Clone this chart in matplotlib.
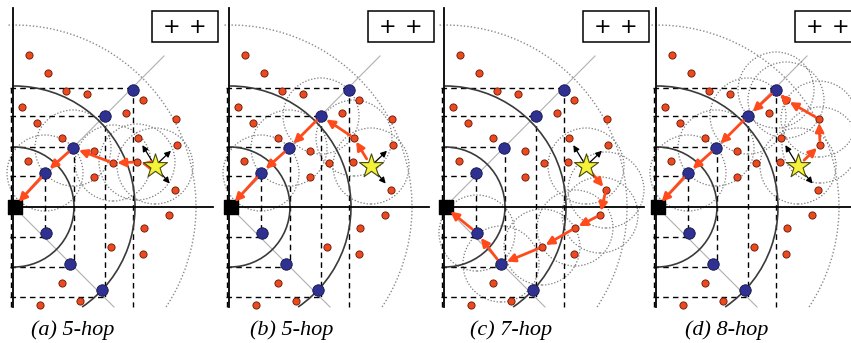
import matplotlib
matplotlib.use("Agg")
import numpy as np
import matplotlib.pyplot as plt
from matplotlib.patches import Arc, Circle, Rectangle, FancyArrowPatch

# network layout shared by the four panels, pixels relative to the sink (y up)
red_x = [15, 34, 52, 73, 8, 129, 112, 23, 162, 48, 124, 163, 14, 80, 99, 123, 80,
         161, 155, 130, 97, 129, 48, 66, 26]
red_y = [152, 134, 116, 113, 100, 107, 94, 84, 88, 69, 69, 62, 46, 56, 44, 45, 30,
         17, -8, -21, -40, -47, -76, -94, -98]
blue_x = [31, 59, 91, 119, 32, 56, 88]
blue_y = [34, 59, 91, 117, -26, -57, -83]
star_x, star_y = 141, 41

grid_up = [31, 60, 91, 119]
grid_down = [-30, -60, -90]
ring_radii = [60, 121]
outer_radius = 182
range_radius = 38

panel_x = [14, 230, 445, 657]
labels = ["(a) 5-hop", "(b) 5-hop", "(c) 7-hop", "(d) 8-hop"]
label_x = [73, 292, 511, 727]

# forwarding paths: S = source (star), rN = red node, bN = blue node, K = sink
paths = [
    ["S", "r15", "r14", "b1", "b0", "K"],
    ["S", "r10", "b2", "b1", "b0", "K"],
    ["S", "r17", "r18", "r19", "r20", "b5", "b4", "K"],
    ["S", "r11", "r8", "r5", "b3", "b2", "b1", "b0", "K"],
]
# neighbours probed by the source but not chosen
probes = [
    ["r10", "r11", "r17"],
    ["r15", "r11", "r17"],
    ["r10", "r11", "r15"],
    ["r10", "r15", "r17"],
]

RED = "#ea4a1f"
ARROW = "#ff4a1c"
BLUE = "#2e3192"
BOTTOM = -100


def pos(key):
    if key == "S":
        return star_x, star_y
    if key == "K":
        return 0, 0
    i = int(key[1:])
    if key[0] == "r":
        return red_x[i], red_y[i]
    return blue_x[i], blue_y[i]


def shrink(key):
    return {"S": 6, "K": 5, "r": 3, "b": 4.5}[key if key in "SK" else key[0]]


fig = plt.figure(figsize=(8.51, 3.43), dpi=100)
ax = fig.add_axes([0, 0, 1, 1])
ax.set_xlim(0, 851)
ax.set_ylim(-136, 207)
ax.axis("off")

for p, x0 in enumerate(panel_x):
    # axes
    ax.plot([x0 - 1, x0 - 1], [BOTTOM, 199], color="black", lw=1.3, zorder=3)
    ax.plot([x0 - 1, x0 + 199], [0, 0], color="black", lw=1.3, zorder=3)
    ax.plot([x0 - 3, x0 - 3], [BOTTOM, grid_up[-1]], color="black", lw=1,
            ls=(0, (4, 3)), zorder=3)

    # diagonals
    ax.plot([x0, x0 + 150], [0, 151], color="#b0b0b0", lw=0.8, zorder=1)
    ax.plot([x0, x0 + 100], [0, BOTTOM], color="#b0b0b0", lw=0.8, zorder=1)

    # dashed grid through the blue nodes
    for i, g in enumerate(grid_up):
        ax.plot([x0 - 4, x0 + g], [g, g], color="black", lw=1, ls=(0, (4, 3)), zorder=2)
        low = grid_down[i] if i < len(grid_down) else BOTTOM
        ax.plot([x0 + g, x0 + g], [g, low], color="black", lw=1, ls=(0, (4, 3)), zorder=2)
    for g in grid_down:
        ax.plot([x0 - 4, x0 - g], [g, g], color="black", lw=1, ls=(0, (4, 3)), zorder=2)

    # rings around the sink
    for r in ring_radii:
        t1 = -np.degrees(np.arcsin(min(1.0, -BOTTOM / r)))
        ax.add_patch(Arc((x0, 0), 2 * r, 2 * r, theta1=t1, theta2=90,
                         color="#3a3a3a", lw=1.2, zorder=2))
    t1 = -np.degrees(np.arcsin(-BOTTOM / outer_radius))
    ax.add_patch(Arc((x0, 0), 2 * outer_radius, 2 * outer_radius, theta1=t1, theta2=92,
                     color="#8a8a8a", lw=1.0, ls=(0, (1, 1.5)), zorder=1))

    # radio range of every forwarding node
    for key in paths[p][:-1]:
        cx, cy = pos(key)
        ax.add_patch(Circle((x0 + cx, cy), range_radius, fill=False, ec="#7a7a7a",
                            lw=0.9, ls=(0, (1, 1.5)), zorder=1))

    # nodes
    ax.scatter(np.array(red_x) + x0, red_y, s=27, c=RED, edgecolors="#6a1400",
               linewidths=0.6, zorder=5)
    ax.scatter(np.array(blue_x) + x0, blue_y, s=68, c=BLUE, edgecolors="#151545",
               linewidths=0.6, zorder=5)
    ax.scatter([x0 + 1], [0], marker="s", s=90, c="black", zorder=6)

    # probe arrows from the source
    for key in probes[p]:
        nx, ny = pos(key)
        ax.add_patch(FancyArrowPatch((x0 + star_x, star_y), (x0 + nx, ny),
                                     arrowstyle="-|>", mutation_scale=9,
                                     color="black", lw=0.9, shrinkA=0, shrinkB=6,
                                     zorder=6))

    # chosen path
    for a, b in zip(paths[p][:-1], paths[p][1:]):
        ax_, ay_ = pos(a)
        bx_, by_ = pos(b)
        ax.add_patch(FancyArrowPatch((x0 + ax_, ay_), (x0 + bx_, by_),
                                     arrowstyle="-|>", mutation_scale=12,
                                     color=ARROW, lw=2.0, shrinkA=shrink(a),
                                     shrinkB=shrink(b), zorder=7))

    ax.scatter([x0 + star_x], [star_y], marker="*", s=330, c="#f5f23a",
               edgecolors="#4a4a10", linewidths=0.8, zorder=8)

    # legend box
    ax.add_patch(Rectangle((x0 + 138, 165), 66, 31, fill=True, fc="white",
                           ec="black", lw=1.1, zorder=8))
    for dx in (158, 184):
        ax.text(x0 + dx, 180, "+", ha="center", va="center", fontsize=15,
                family="DejaVu Sans", zorder=9)

    ax.text(label_x[p], -123, labels[p], ha="center", va="center", fontsize=16,
            family="Liberation Serif", style="italic")

fig.savefig("out.png", dpi=100, facecolor="white")
